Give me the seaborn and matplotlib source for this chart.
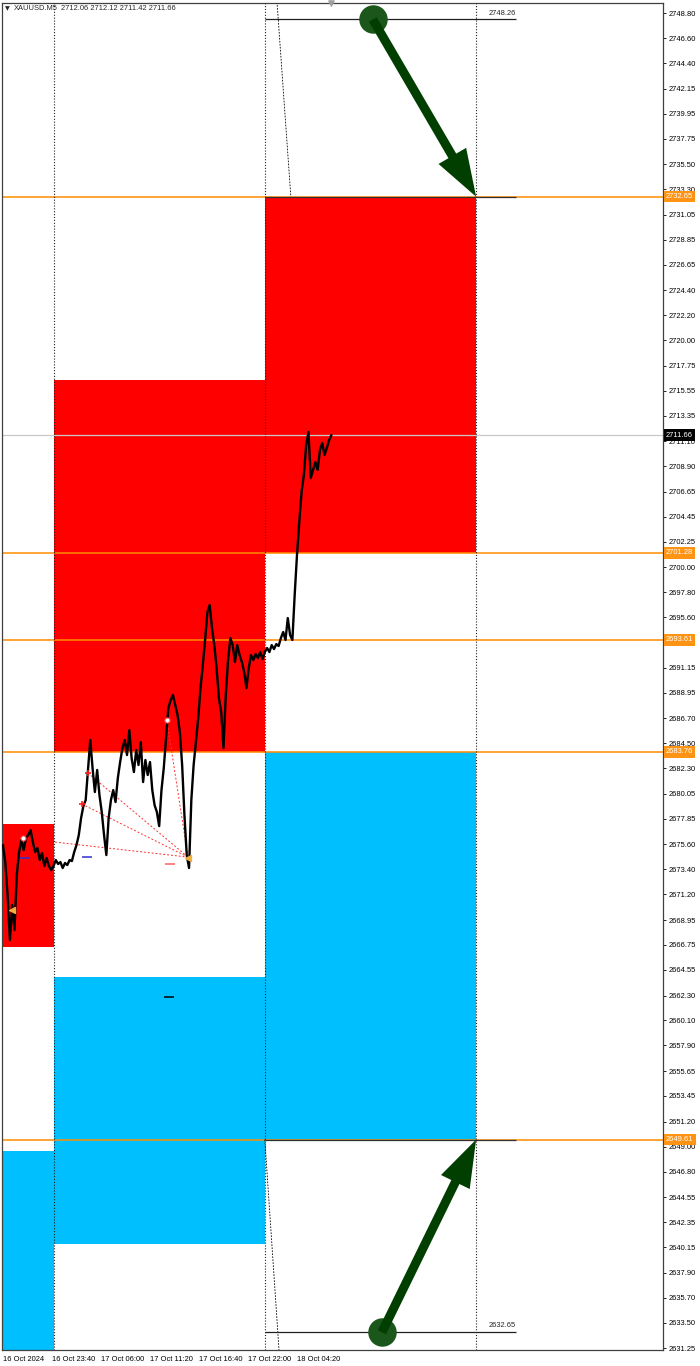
import matplotlib

matplotlib.use("Agg")

import matplotlib.pyplot as plt
import numpy as np
import pandas as pd
import seaborn as sns
from matplotlib.patches import ArrowStyle, FancyArrowPatch

# --- data --------------------------------------------------------------------
symbol = "XAUUSD.M5"
ohlc_last = [2712.06, 2712.12, 2711.42, 2711.66]
last_price = 2711.66

# close prices, one value every 3 M5 bars starting at bar 0
bar_step = 3
close = [
    2675.55, 2674.05, 2671.15, 2667.18, 2670.27, 2668.06, 2672.91, 2674.93,
    2675.99, 2675.11, 2676.17, 2676.43, 2676.87, 2675.82, 2674.93, 2675.29,
    2674.23, 2674.85, 2673.70, 2674.41, 2673.70, 2673.35, 2673.70, 2674.23,
    2673.88, 2674.05, 2673.53, 2673.97, 2673.79, 2674.23, 2674.14, 2674.93,
    2675.55, 2676.43, 2677.93, 2678.99, 2679.51, 2682.16, 2684.80, 2682.33,
    2680.22, 2682.16, 2679.95, 2678.46, 2676.43, 2674.67, 2677.93, 2679.51,
    2680.39, 2679.34, 2681.45, 2682.86, 2684.09, 2684.80, 2683.48, 2685.68,
    2683.21, 2681.98, 2683.92, 2682.60, 2684.62, 2681.10, 2683.04, 2681.72,
    2682.86, 2680.39, 2679.07, 2678.46, 2677.22, 2680.39, 2682.33, 2684.97,
    2687.62, 2688.32, 2688.76, 2687.88, 2687.00, 2685.50, 2682.60, 2678.19,
    2674.67, 2673.53, 2679.51, 2682.60, 2684.62, 2686.74, 2689.38, 2691.40,
    2693.61, 2696.07, 2696.69, 2694.66, 2693.16, 2691.14, 2688.50, 2687.26,
    2684.09, 2688.76, 2691.84, 2693.78, 2693.16, 2691.67, 2693.16, 2692.28,
    2691.67, 2690.79, 2689.38, 2691.14, 2692.28, 2691.84, 2692.37, 2692.02,
    2692.55, 2691.93, 2692.55, 2692.90, 2692.55, 2693.16, 2692.81, 2693.25,
    2693.08, 2693.78, 2694.31, 2693.61, 2695.54, 2694.05, 2693.61, 2697.57,
    2701.09, 2704.00, 2706.64, 2708.14, 2710.78, 2711.92, 2707.87, 2708.58,
    2709.28, 2708.58, 2710.34, 2710.96, 2709.90, 2710.52, 2711.22, 2711.66,
]

tick_bars = [0, 64, 128, 192, 256, 320, 384]
tick_text = ["16 Oct 2024", "16 Oct 23:40", "17 Oct 06:00", "17 Oct 11:20",
             "17 Oct 16:40", "17 Oct 22:00", "18 Oct 04:20"]

price_ticks = [
    2748.80, 2746.60, 2744.40, 2742.15, 2739.95, 2737.75, 2735.50, 2733.30,
    2731.05, 2728.85, 2726.65, 2724.40, 2722.20, 2720.00, 2717.75, 2715.55,
    2713.35, 2711.10, 2708.90, 2706.65, 2704.45, 2702.25, 2700.00, 2697.80,
    2695.60, 2693.35, 2691.15, 2688.95, 2686.70, 2684.50, 2682.30, 2680.05,
    2677.85, 2675.60, 2673.40, 2671.20, 2668.95, 2666.75, 2664.55, 2662.30,
    2660.10, 2657.90, 2655.65, 2653.45, 2651.20, 2649.00, 2646.80, 2644.55,
    2642.35, 2640.15, 2637.90, 2635.70, 2633.50, 2631.25,
]

# daily period separators (bar index)
day_breaks = [66, 342, 618]

# supply (sell) / demand (buy) zones
zone_start = [-10, -10, 66, 66, 342, 342]
zone_end = [66, 66, 342, 342, 618, 618]
zone_low = [2666.57, 2620.00, 2683.76, 2640.41, 2701.28, 2649.61]
zone_high = [2677.40, 2648.60, 2716.50, 2663.93, 2732.65, 2683.76]
zone_kind = ["sell", "buy", "sell", "buy", "sell", "buy"]

levels = [2732.65, 2701.28, 2693.61, 2683.76, 2649.61]

# projected targets (horizontal segment + arrow)
target_price = [2748.26, 2632.65]
target_from, target_to = 342, 670
arrow_tail_bar = [483, 495]
arrow_tail_price = [2748.26, 2632.65]
arrow_head_bar = [618, 618]
arrow_head_price = [2732.65, 2649.61]

# slanted time lines
tline_bar = [[355.6, 376.0], [342.0, 363.6]]
tline_price = [[2752.00, 2732.65], [2649.61, 2628.00]]

# red fan from swing points to the low
fan_pivot_bar, fan_pivot_price = 241.6, 2674.49
fan_src_bar = [68, 103, 111, 214]
fan_src_price = [2675.81, 2679.16, 2681.89, 2686.56]

# signal markers
ring_bar, ring_price = [26.1, 214.2], [2676.17, 2686.56]
plus_bar, plus_price = [103.2, 111.0], [2679.16, 2681.89]
tri_bar, tri_price = [11.8, 241.6], [2669.83, 2674.41]
dash_bar = [28.7, 109.7, 217.5, 216.2]
dash_price = [2674.41, 2674.49, 2673.88, 2662.17]
dash_color = ["#3030d0", "#3030d0", "#ff6060", "#000000"]

# --- figure -----------------------------------------------------------------
sns.set_style("white")
plt.rcParams["font.family"] = ["Liberation Sans", "DejaVu Sans"]

RED, BLUE, ORANGE = "#FF0000", "#00BFFF", "#FF8C00"
fs = 5.4

fig = plt.figure(figsize=(7, 13.66), dpi=100)
ax = fig.add_axes([2 / 700, 16 / 1366, 661 / 700, 1347 / 1366])

colors = [RED if k == "sell" else BLUE for k in zone_kind]
ax.bar(zone_start, np.subtract(zone_high, zone_low), bottom=zone_low,
       width=np.subtract(zone_end, zone_start), align="edge",
       color=colors, linewidth=0, zorder=1)

for lv in levels:
    ax.axhline(lv, color=ORANGE, lw=1.1, zorder=2)
ax.axhline(last_price, color="#c8c8c8", lw=0.9, zorder=2)
ax.hlines([levels[0], levels[-1]], target_from, target_to, color="#303030", lw=0.9, zorder=2.5)

for b in day_breaks:
    ax.axvline(b, color="#202020", ls=(0, (1, 1.6)), lw=0.8, zorder=3)
for xs, ys in zip(tline_bar, tline_price):
    ax.plot(xs, ys, color="black", ls=(0, (2, 1.6)), lw=0.6, zorder=3)

for fb, fp in zip(fan_src_bar, fan_src_price):
    ax.plot([fb, fan_pivot_bar], [fp, fan_pivot_price], color="#ff3030",
            ls=(0, (2, 2)), lw=0.7, zorder=3)

df = pd.DataFrame({"bar": np.arange(len(close)) * bar_step, "close": close})
sns.lineplot(data=df, x="bar", y="close", color="black", lw=1.7, ax=ax, zorder=4)

ax.scatter(ring_bar, ring_price, s=14, facecolor="white", edgecolor="#ff4040", lw=0.8, zorder=5)
ax.scatter(plus_bar, plus_price, s=14, marker="+", color="#ff2020", lw=1.2, zorder=5)
ax.scatter(tri_bar, tri_price, s=18, marker="<", color="#f0b040", zorder=5)
for db, dp, dc in zip(dash_bar, dash_price, dash_color):
    ax.plot([db], [dp], marker="_", ms=7, mew=1.1, color=dc, zorder=5)

# target segments and labels
ax.hlines(target_price, target_from, target_to, color="#202020", lw=0.9, zorder=3)
for tp in target_price:
    ax.text(target_to, tp + 0.25, f"{tp:.2f}", fontsize=fs, ha="right", va="bottom", zorder=6)

# arrows
for tb, tpz, hb, hp in zip(arrow_tail_bar, arrow_tail_price, arrow_head_bar, arrow_head_price):
    ax.scatter([tb], [tpz], s=380, color="#1b561b", zorder=6)
    arr = FancyArrowPatch((tb, tpz), (hb, hp),
                          arrowstyle=ArrowStyle.Simple(head_length=34, head_width=23, tail_width=6.5),
                          mutation_scale=1, shrinkA=0, shrinkB=0,
                          color="#003f00", lw=0, zorder=7)
    ax.add_patch(arr)

# shift marker
ax.scatter([len(close) * bar_step - bar_step], [1.0], transform=ax.get_xaxis_transform(),
           marker="v", s=14, color="#a0a0a0", clip_on=False, zorder=8)

ax.set_xlim(-1.3, 862.1)
ax.set_ylim(2631.08, 2749.71)

ax.yaxis.tick_right()
ax.set_yticks(price_ticks)
ax.set_yticklabels([f"{v:.2f}" for v in price_ticks])
ax.tick_params(axis="y", length=2.5, width=0.6, pad=1.5, labelsize=fs, colors="black")
ax.set_xticks(tick_bars)
ax.set_xticklabels(tick_text, ha="left")
ax.tick_params(axis="x", length=3, width=0.6, pad=1.0, labelsize=fs, colors="black")
ax.set_xlabel("")
ax.set_ylabel("")
for sp in ax.spines.values():
    sp.set_color("#404040")
    sp.set_linewidth(0.9)

# level price tags (drawn over the axis labels, as the terminal does)
for lv in levels:
    ax.annotate(f"{lv:.2f}", xy=(1, lv), xycoords=ax.get_yaxis_transform(),
                xytext=(2.0, 0), textcoords="offset points", fontsize=fs,
                color="white", va="center", ha="left", zorder=10,
                bbox=dict(boxstyle="square,pad=0.3", fc="#FF9414", ec="none"))
ax.annotate(f"{last_price:.2f}", xy=(1, last_price), xycoords=ax.get_yaxis_transform(),
            xytext=(2.0, 0), textcoords="offset points", fontsize=fs,
            color="white", va="center", ha="left", zorder=10,
            bbox=dict(boxstyle="square,pad=0.3", fc="black", ec="none"))

# header
fig.text(5 / 700, 1 - 9 / 1366, "\u25bc", fontsize=4.5, va="center", family=["DejaVu Sans"])
fig.text(14 / 700, 1 - 9 / 1366, symbol, fontsize=fs, va="center")
fig.text(61 / 700, 1 - 9 / 1366, " ".join(f"{v:.2f}" for v in ohlc_last), fontsize=fs, va="center")

fig.savefig("out.png", dpi=100)
